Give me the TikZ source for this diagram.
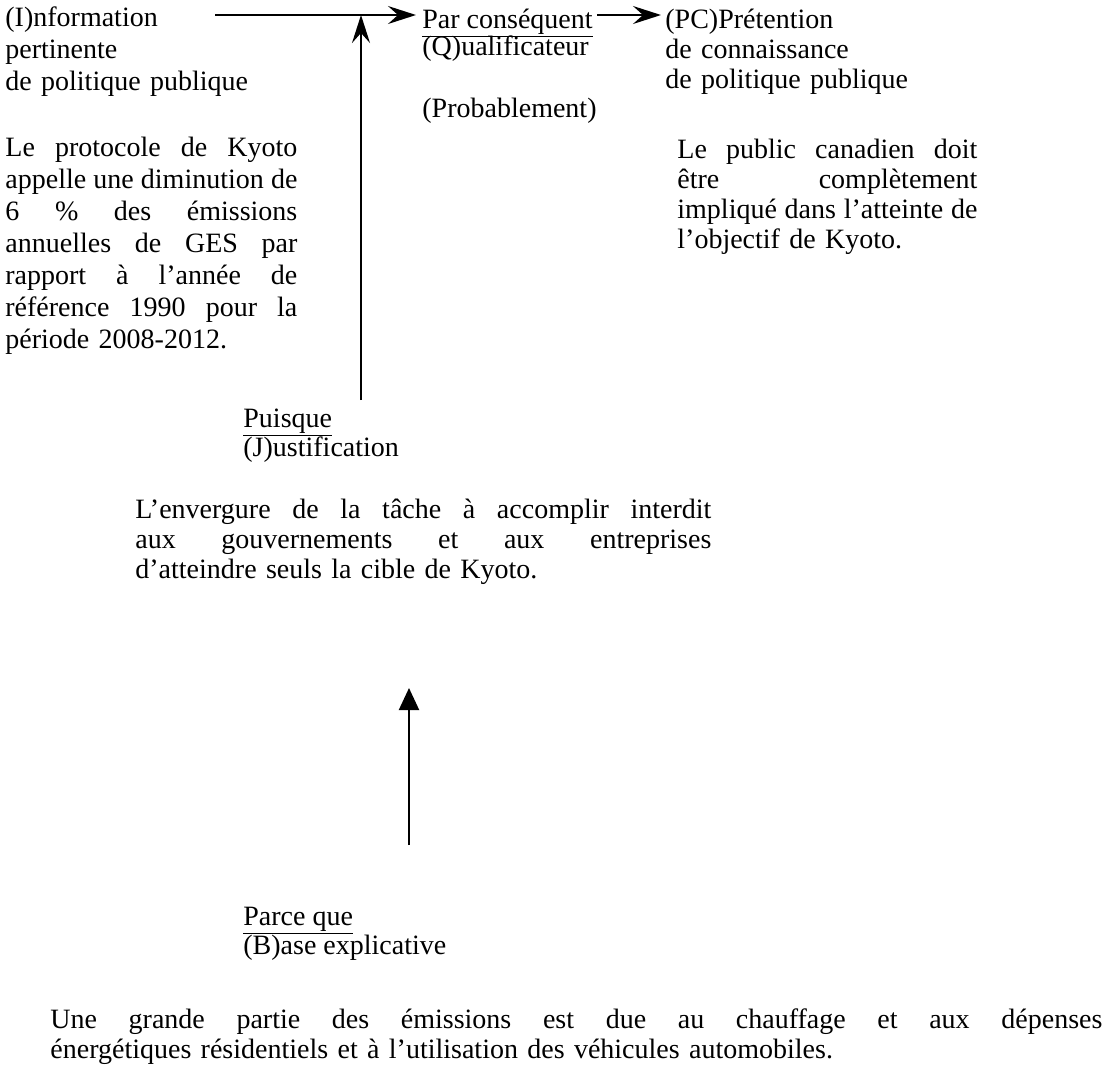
\documentclass[tikz,border=0pt]{standalone}
\usepackage{fontspec}
\setmainfont{Liberation Serif}
\usetikzlibrary{arrows.meta}

% one justified line of a paragraph
\newcommand{\jline}[1]{\hbox to\hsize{\spaceskip=0.25em plus 1fil\relax #1}\par}

\begin{document}
\begin{tikzpicture}[x=0.5pt,y=-0.5pt,
        txt/.style={anchor=base west,inner sep=0pt,align=left,font=\fontsize{14}{16}\selectfont},
        para/.style={txt,text width=#1},
        tight/.style={font=\fontsize{14}{15}\selectfont},
        arr/.style={line width=1pt,-{Stealth[length=14pt,width=9pt,inset=5pt]}},
        arrb/.style={line width=1pt,-{Triangle[length=11pt,width=10pt]}}]
    \useasboundingbox (0,0) rectangle (1109,1089);

    % information
    \node [para=130pt] (info) at (5,26) {(I)nformation\\pertinente\\de politique publique};
    \node [para=146pt] (kyoto) at (5,156) {\jline{Le protocole de Kyoto}\jline{appelle une diminution de}\jline{6 \% des émissions}\jline{annuelles de GES par}\jline{rapport à l’année de}\jline{référence 1990 pour la}période 2008-2012.};

    % qualificateur
    \node [txt] (parcons) at (422,28) {\underline{Par conséquent}};
    \node [txt] (qualif) at (422,55) {(Q)ualificateur};
    \node [txt] (proba) at (422,117) {(Probablement)};

    % pretention
    \node [para=130pt,tight] (pc) at (665,28) {(PC)Prétention\\de connaissance\\de politique publique};
    \node [para=150pt,tight] (public) at (677,158) {\jline{Le public canadien doit}\jline{être complètement}\jline{impliqué dans l’atteinte de}l’objectif de Kyoto.};

    % justification
    \node [txt] (puisque) at (243,427) {\underline{Puisque}};
    \node [txt] (justif) at (243,456) {(J)ustification};
    \node [para=288pt,tight] (envergure) at (135,518) {\jline{L’envergure de la tâche à accomplir interdit}\jline{aux gouvernements et aux entreprises}d’atteindre seuls la cible de Kyoto.};

    % base
    \node [txt] (parceque) at (243,925) {\underline{Parce que}};
    \node [txt] (base) at (243,954) {(B)ase explicative};
    \node [para=526pt,tight] (bottom) at (50,1028) {\jline{Une grande partie des émissions est due au chauffage et aux dépenses}énergétiques résidentiels et à l’utilisation des véhicules automobiles.};

    % arrows
    \coordinate (i0) at (215,15);
    \coordinate (j0) at (361,400);
    \coordinate (b0) at (409,845);
    \coordinate (b1) at (409,688);
    \draw [arr] (i0) -- ([xshift=-3pt]parcons.west |- i0);
    \draw [arr] (j0) -- (j0 |- i0);
    \draw [arr] ([xshift=2pt]parcons.east |- i0) -- ([xshift=-2pt]pc.west |- i0);
    \draw [arrb] (b0) -- (b1);
\end{tikzpicture}
\end{document}
